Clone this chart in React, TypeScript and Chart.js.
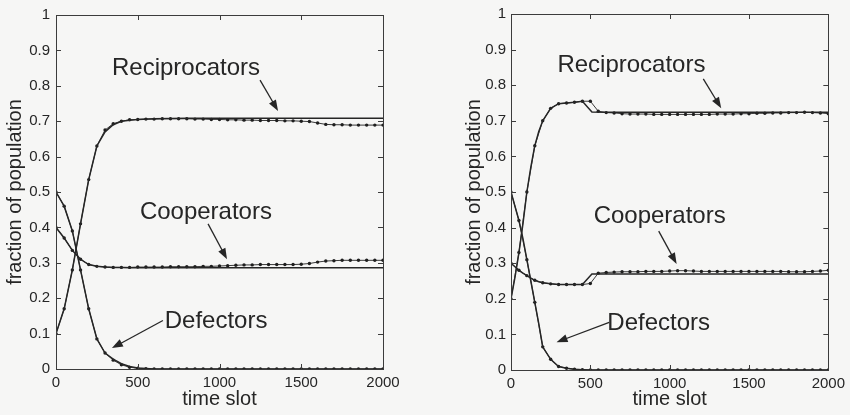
import React, { useEffect, useRef } from "react";
import { Chart, registerables } from "chart.js";
Chart.register(...registerables);

// ---------- tick values / labels ----------
const yTickValues = [0, 0.1, 0.2, 0.3, 0.4, 0.5, 0.6, 0.7, 0.8, 0.9, 1];
const yTickLabels = ["0", "0.1", "0.2", "0.3", "0.4", "0.5", "0.6", "0.7", "0.8", "0.9", "1"];
const xTickValues = [0, 500, 1000, 1500, 2000];
const xTickLabels = ["0", "500", "1000", "1500", "2000"];

// ---------- simulation sample times (every 50 slots) ----------
const simTime = [
  0, 50, 100, 150, 200, 250, 300, 350, 400, 450, 500, 550, 600, 650, 700, 750, 800, 850, 900, 950,
  1000, 1050, 1100, 1150, 1200, 1250, 1300, 1350, 1400, 1450, 1500, 1550, 1600, 1650, 1700, 1750,
  1800, 1850, 1900, 1950, 2000,
];

// ---------- left panel: analysis (solid) ----------
const leftTime = [0, 50, 100, 150, 200, 250, 300, 350, 400, 450, 500, 600, 800, 1000, 1500, 2000];
const leftRecip = [0.1, 0.17, 0.28, 0.41, 0.535, 0.63, 0.67, 0.69, 0.7, 0.703, 0.705, 0.707, 0.708, 0.708, 0.708, 0.708];
const leftCoop = [0.4, 0.37, 0.335, 0.31, 0.295, 0.29, 0.288, 0.287, 0.287, 0.286, 0.286, 0.286, 0.286, 0.286, 0.286, 0.286];
const leftDef = [0.5, 0.46, 0.39, 0.28, 0.17, 0.085, 0.045, 0.028, 0.015, 0.007, 0.003, 0, 0, 0, 0, 0];

// ---------- left panel: simulation (dotted) ----------
const leftRecipSim = [
  0.1, 0.17, 0.28, 0.41, 0.535, 0.63, 0.675, 0.693, 0.7, 0.704, 0.705, 0.706, 0.706, 0.707, 0.707, 0.707,
  0.707, 0.706, 0.706, 0.705, 0.705, 0.704, 0.704, 0.703, 0.703, 0.702, 0.702, 0.702, 0.701, 0.701,
  0.7, 0.699, 0.695, 0.691, 0.69, 0.69, 0.689, 0.689, 0.689, 0.689, 0.689,
];
const leftCoopSim = [
  0.4, 0.37, 0.335, 0.31, 0.295, 0.29, 0.288, 0.287, 0.287, 0.287, 0.288, 0.288, 0.288, 0.288, 0.289,
  0.289, 0.289, 0.289, 0.29, 0.29, 0.291, 0.292, 0.293, 0.294, 0.294, 0.295, 0.295, 0.295, 0.295, 0.295,
  0.296, 0.298, 0.302, 0.305, 0.306, 0.307, 0.307, 0.307, 0.307, 0.307, 0.307,
];
const leftDefSim = [
  0.5, 0.46, 0.39, 0.28, 0.17, 0.085, 0.045, 0.025, 0.012, 0.005, 0.002, 0.001, 0, 0, 0, 0, 0, 0, 0, 0,
  0, 0, 0, 0, 0, 0, 0, 0, 0, 0, 0, 0, 0, 0, 0, 0, 0, 0, 0, 0, 0,
];

// ---------- right panel: analysis (solid) ----------
const rightTime = [0, 25, 50, 75, 100, 125, 150, 175, 200, 250, 300, 350, 400, 450, 510, 600, 1000, 1500, 2000];
const rightRecip = [0.2, 0.26, 0.33, 0.41, 0.5, 0.57, 0.63, 0.67, 0.7, 0.735, 0.748, 0.75, 0.752, 0.755, 0.725, 0.724, 0.724, 0.724, 0.724];
const rightCoop = [0.3, 0.29, 0.28, 0.272, 0.265, 0.258, 0.252, 0.248, 0.245, 0.242, 0.24, 0.24, 0.24, 0.24, 0.27, 0.27, 0.27, 0.27, 0.27];
const rightDef = [0.5, 0.46, 0.42, 0.37, 0.31, 0.25, 0.19, 0.13, 0.065, 0.03, 0.01, 0.005, 0.002, 0.001, 0, 0, 0, 0, 0];

// ---------- right panel: simulation (dotted) ----------
const rightRecipSim = [
  0.2, 0.33, 0.5, 0.63, 0.7, 0.735, 0.748, 0.75, 0.752, 0.755, 0.755, 0.727, 0.723, 0.722, 0.72, 0.719,
  0.719, 0.719, 0.718, 0.718, 0.718, 0.718, 0.718, 0.718, 0.718, 0.718, 0.719, 0.719, 0.719, 0.72,
  0.72, 0.721, 0.721, 0.722, 0.722, 0.723, 0.723, 0.724, 0.723, 0.722, 0.72,
];
const rightCoopSim = [
  0.3, 0.28, 0.265, 0.252, 0.245, 0.242, 0.24, 0.24, 0.24, 0.24, 0.243, 0.272, 0.274, 0.275, 0.276,
  0.276, 0.276, 0.277, 0.277, 0.277, 0.278, 0.279, 0.279, 0.278, 0.277, 0.277, 0.277, 0.277, 0.277,
  0.277, 0.277, 0.277, 0.277, 0.277, 0.277, 0.276, 0.276, 0.276, 0.277, 0.278, 0.28,
];
const rightDefSim = [
  0.5, 0.42, 0.31, 0.19, 0.065, 0.03, 0.01, 0.005, 0.002, 0.001, 0, 0, 0, 0, 0, 0, 0, 0, 0, 0,
  0, 0, 0, 0, 0, 0, 0, 0, 0, 0, 0, 0, 0, 0, 0, 0, 0, 0, 0, 0, 0,
];

// ---------- annotation texts ----------
const labelRecip = "Reciprocators";
const labelCoop = "Cooperators";
const labelDef = "Defectors";

const FONT = "'Liberation Sans', Arial, Helvetica, sans-serif";
const INK = "#262626";
const BG = "#f6f6f5";

const pts = (xs: number[], ys: number[]) => xs.map((x, i) => ({ x, y: ys[i] }));

function drawArrow(ctx: CanvasRenderingContext2D, x0: number, y0: number, x1: number, y1: number) {
  const ang = Math.atan2(y1 - y0, x1 - x0);
  const c = Math.cos(ang), s = Math.sin(ang);
  const L = 11, W = 4;
  ctx.beginPath();
  ctx.moveTo(x0, y0);
  ctx.lineTo(x1 - L * 0.7 * c, y1 - L * 0.7 * s);
  ctx.stroke();
  ctx.beginPath();
  ctx.moveTo(x1, y1);
  ctx.lineTo(x1 - L * c + W * s, y1 - L * s - W * c);
  ctx.lineTo(x1 - L * c - W * s, y1 - L * s + W * c);
  ctx.closePath();
  ctx.fill();
}

const framePlugin = {
  id: "frame",
  beforeDraw(chart: any) {
    const { ctx, width, height } = chart;
    ctx.save();
    ctx.fillStyle = BG;
    ctx.fillRect(0, 0, width, height);
    ctx.restore();
  },
  afterDatasetsDraw(chart: any, _args: any, opts: any) {
    const { ctx, chartArea: a, scales } = chart;
    const xs = scales.x, ys = scales.y;
    ctx.save();
    ctx.strokeStyle = "#3c3c3c";
    ctx.lineWidth = 1;
    ctx.strokeRect(Math.round(a.left) + 0.5, Math.round(a.top) + 0.5, Math.round(a.right - a.left), Math.round(a.bottom - a.top));
    const tl = 5;
    ctx.beginPath();
    yTickValues.forEach((v) => {
      const py = Math.round(ys.getPixelForValue(v)) + 0.5;
      ctx.moveTo(a.left, py); ctx.lineTo(a.left + tl, py);
      ctx.moveTo(a.right, py); ctx.lineTo(a.right - tl, py);
    });
    xTickValues.forEach((v) => {
      const px = Math.round(xs.getPixelForValue(v)) + 0.5;
      ctx.moveTo(px, a.bottom); ctx.lineTo(px, a.bottom - tl);
      ctx.moveTo(px, a.top); ctx.lineTo(px, a.top + tl);
    });
    ctx.stroke();

    // annotations
    ctx.fillStyle = INK;
    ctx.strokeStyle = INK;
    ctx.lineWidth = 1.3;
    ctx.font = `24px ${FONT}`;
    ctx.textAlign = "center";
    ctx.textBaseline = "alphabetic";
    (opts.notes || []).forEach((n: any) => {
      ctx.fillText(n.text, xs.getPixelForValue(n.tx), ys.getPixelForValue(n.ty));
      drawArrow(
        ctx,
        xs.getPixelForValue(n.ax0), ys.getPixelForValue(n.ay0),
        xs.getPixelForValue(n.ax1), ys.getPixelForValue(n.ay1)
      );
    });
    ctx.restore();
  },
};

type PanelSpec = {
  time: number[];
  recip: number[]; coop: number[]; def: number[];
  recipSim: number[]; coopSim: number[]; defSim: number[];
  notes: any[];
  padLeft: number; padRight: number; padTop: number;
  yWidth: number; xHeight: number; titlePad: number; yTickPad: number;
};

function solid(data: any[]) {
  return { data, borderColor: INK, borderWidth: 1.5, pointRadius: 0, tension: 0, fill: false };
}
function dotted(data: any[]) {
  return {
    data, borderColor: "#3a3a3a", borderWidth: 1, pointRadius: 1.7, pointBorderWidth: 0,
    pointBackgroundColor: "#1e1e1e", tension: 0, fill: false,
  };
}

function Panel({ spec, left }: { spec: PanelSpec; left: number }) {
  const ref = useRef<HTMLCanvasElement | null>(null);
  useEffect(() => {
    if (!ref.current) return;
    const chart = new Chart(ref.current, {
      type: "line",
      data: {
        datasets: [
          solid(pts(spec.time, spec.recip)),
          solid(pts(spec.time, spec.coop)),
          solid(pts(spec.time, spec.def)),
          dotted(pts(simTime, spec.recipSim)),
          dotted(pts(simTime, spec.coopSim)),
          dotted(pts(simTime, spec.defSim)),
        ],
      } as any,
      options: {
        animation: false,
        responsive: false,
        maintainAspectRatio: false,
        events: [],
        layout: { padding: { left: spec.padLeft, right: spec.padRight, top: spec.padTop, bottom: 0 } },
        plugins: {
          legend: { display: false },
          tooltip: { enabled: false },
          frame: { notes: spec.notes },
        } as any,
        scales: {
          x: {
            type: "linear",
            min: 0,
            max: 2000,
            afterFit: (s: any) => { s.height = spec.xHeight; },
            afterBuildTicks: (s: any) => { s.ticks = xTickValues.map((v) => ({ value: v })); },
            grid: { display: false, drawTicks: false },
            border: { display: false },
            ticks: {
              padding: 5,
              color: INK,
              font: { family: FONT, size: 15 },
              maxRotation: 0,
              callback: (v: any) => xTickLabels[xTickValues.indexOf(Number(v))] ?? "",
            },
            title: {
              display: true,
              text: "time slot",
              color: INK,
              font: { family: FONT, size: 20 },
              padding: { top: 0, bottom: 4 },
            },
          },
          y: {
            type: "linear",
            min: 0,
            max: 1,
            afterFit: (s: any) => { s.width = spec.yWidth; },
            afterBuildTicks: (s: any) => { s.ticks = yTickValues.map((v) => ({ value: v })); },
            grid: { display: false, drawTicks: false },
            border: { display: false },
            ticks: {
              padding: spec.yTickPad,
              color: INK,
              font: { family: FONT, size: 15 },
              callback: (v: any) => {
                const i = yTickValues.findIndex((t) => Math.abs(t - Number(v)) < 1e-6);
                return i >= 0 ? yTickLabels[i] : "";
              },
            },
            title: {
              display: true,
              text: "fraction of population",
              color: INK,
              font: { family: FONT, size: 20 },
              padding: { top: spec.titlePad, bottom: 0 },
            },
          },
        },
      } as any,
      plugins: [framePlugin as any],
    });
    return () => chart.destroy();
  }, []);
  return (
    <div style={{ position: "absolute", left, top: 0, width: 425, height: 415 }}>
      <canvas ref={ref} width={425} height={415} style={{ width: 425, height: 415, display: "block" }} />
    </div>
  );
}

const leftSpec: PanelSpec = {
  time: leftTime, recip: leftRecip, coop: leftCoop, def: leftDef,
  recipSim: leftRecipSim, coopSim: leftCoopSim, defSim: leftDefSim,
  notes: [
    { text: labelRecip, tx: 795, ty: 0.83, ax0: 1248, ay0: 0.816, ax1: 1358, ay1: 0.729 },
    { text: labelCoop, tx: 917, ty: 0.425, ax0: 930, ay0: 0.41, ax1: 1046, ay1: 0.31 },
    { text: labelDef, tx: 979, ty: 0.115, ax0: 654, ay0: 0.137, ax1: 342, ay1: 0.059 },
  ],
  padLeft: 0, padRight: 42, padTop: 11, yWidth: 56, xHeight: 46, titlePad: 3, yTickPad: 6,
};

const rightSpec: PanelSpec = {
  time: rightTime, recip: rightRecip, coop: rightCoop, def: rightDef,
  recipSim: rightRecipSim, coopSim: rightCoopSim, defSim: rightDefSim,
  notes: [
    { text: labelRecip, tx: 759, ty: 0.838, ax0: 1212, ay0: 0.818, ax1: 1325, ay1: 0.735 },
    { text: labelCoop, tx: 937, ty: 0.413, ax0: 931, ay0: 0.39, ax1: 1044, ay1: 0.298 },
    { text: labelDef, tx: 931, ty: 0.112, ax0: 619, ay0: 0.134, ax1: 287, ay1: 0.078 },
  ],
  padLeft: 35, padRight: 19, padTop: 11, yWidth: 51, xHeight: 45, titlePad: 2, yTickPad: 5,
};

export default function App() {
  return (
    <div style={{ position: "absolute", left: 0, top: 0, width: 850, height: 415, background: BG, overflow: "hidden" }}>
      <Panel spec={leftSpec} left={0} />
      <Panel spec={rightSpec} left={425} />
    </div>
  );
}
